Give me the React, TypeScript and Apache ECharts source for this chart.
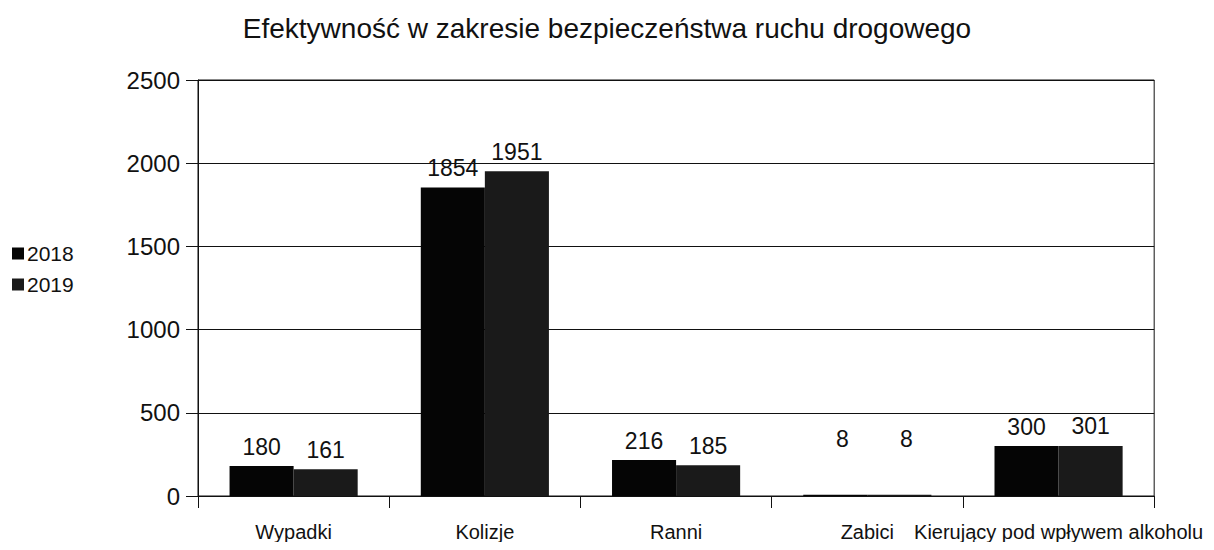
import React, { useEffect, useRef } from "react";
import * as echarts from "echarts";

const title = "Efektywność w zakresie bezpieczeństwa ruchu drogowego";
const categories = ["Wypadki", "Kolizje", "Ranni", "Zabici", "Kierujący pod wpływem alkoholu"];
const seriesNames = ["2018", "2019"];
const values2018 = [180, 1854, 216, 8, 300];
const values2019 = [161, 1951, 185, 8, 301];
const yTicks = [0, 500, 1000, 1500, 2000, 2500];

const FONT = "'Liberation Sans', Arial, sans-serif";

export default function App() {
  const ref = useRef<HTMLDivElement>(null);
  useEffect(() => {
    if (!ref.current) return;
    const chart = echarts.init(ref.current, undefined, { renderer: "svg" });
    const mk = (vals: number[]) =>
      vals.map((v, i) =>
        categories[i] === "Zabici" ? { value: v, label: { offset: [7, -36] } } : v
      );
    const labelStyle = {
      show: true,
      position: "top",
      distance: 8,
      fontFamily: FONT,
      fontSize: 23,
      color: "#111",
    };
    chart.setOption({
      animation: false,
      backgroundColor: "#ffffff",
      title: {
        text: title,
        left: "center",
        top: 1,
        textStyle: { fontFamily: FONT, fontSize: 28, fontWeight: "normal", color: "#111" },
      },
      legend: {
        orient: "vertical",
        left: 4,
        top: 235,
        padding: 0,
        itemWidth: 12,
        itemHeight: 12,
        itemGap: 10,
        icon: "rect",
        data: seriesNames,
        textStyle: { fontFamily: FONT, fontSize: 21, color: "#111", padding: [0, 0, 0, -2] },
      },
      grid: {
        left: 190,
        right: 51,
        top: 72,
        bottom: 37,
        show: true,
        borderColor: "#111",
        borderWidth: 1,
        containLabel: false,
      },
      xAxis: {
        type: "category",
        data: categories,
        axisLine: { lineStyle: { color: "#111", width: 1 } },
        axisTick: { show: true, length: 12, lineStyle: { color: "#111" } },
        axisLabel: {
          interval: 0,
          margin: 26,
          fontFamily: FONT,
          fontSize: 20,
          color: "#111",
        },
      },
      yAxis: {
        type: "value",
        min: yTicks[0],
        max: yTicks[yTicks.length - 1],
        interval: 500,
        axisLine: { show: true, lineStyle: { color: "#111", width: 1 } },
        axisTick: { show: true, length: 12, lineStyle: { color: "#111" } },
        splitLine: { show: true, lineStyle: { color: "#111", width: 1 } },
        axisLabel: {
          margin: 18,
          fontFamily: FONT,
          fontSize: 24,
          color: "#111",
          formatter: (v: number) => String(v),
        },
      },
      series: [
        {
          name: seriesNames[0],
          type: "bar",
          data: mk(values2018),
          barGap: "0%",
          barCategoryGap: "33%",
          itemStyle: { color: "#050505" },
          label: labelStyle,
        },
        {
          name: seriesNames[1],
          type: "bar",
          data: mk(values2019),
          barGap: "0%",
          barCategoryGap: "33%",
          itemStyle: { color: "#1a1a1a" },
          label: labelStyle,
        },
      ],
    });
    return () => chart.dispose();
  }, []);
  return <div ref={ref} style={{ width: 1198, height: 534 }} />;
}
